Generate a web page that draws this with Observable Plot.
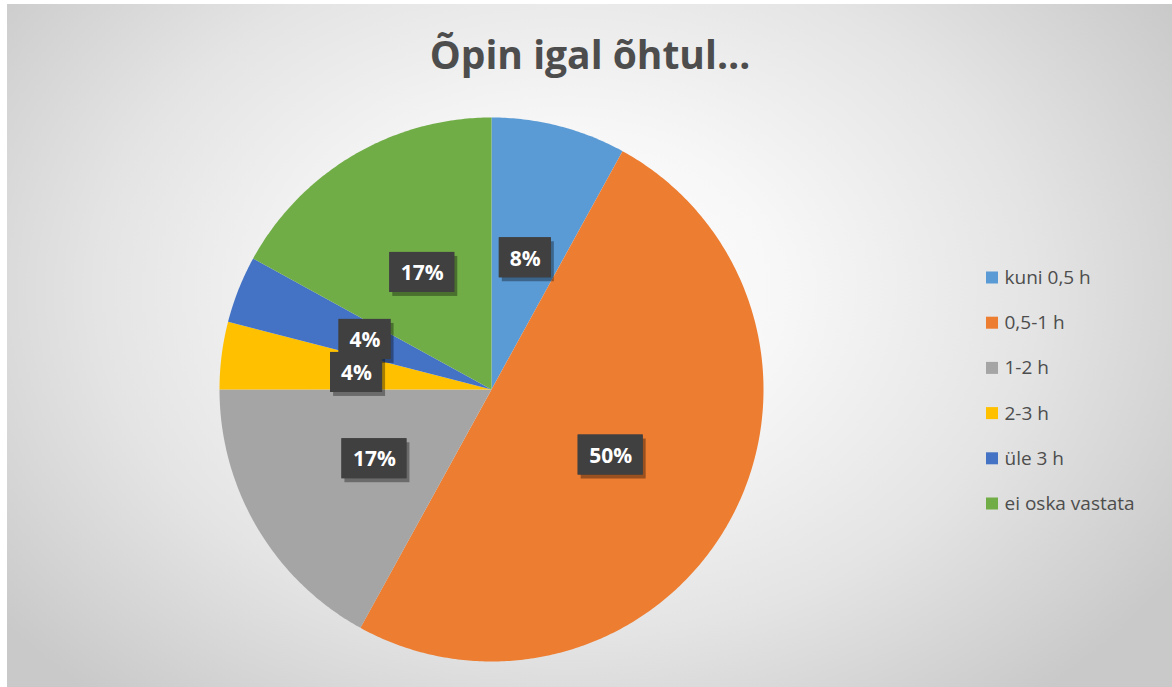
<!DOCTYPE html>
<html><head><meta charset="utf-8">
<script src="https://cdn.jsdelivr.net/npm/d3@7"></script>
<script src="https://cdn.jsdelivr.net/npm/@observablehq/plot@0.6"></script>
<style>
html,body{margin:0;padding:0;background:#fff;}
#wrap{position:relative;width:1172px;height:687px;overflow:hidden;background:#fff;}
#bg{position:absolute;left:7px;top:4px;right:0;bottom:0;
 background:radial-gradient(ellipse 62% 78% at 48% 42%, #ffffff 0%, #f7f7f7 30%, #e4e4e4 65%, #c9c9c9 100%);}
#title{position:absolute;left:0;width:1180px;top:34px;text-align:center;font-family:"Open Sans",sans-serif;
 font-weight:700;font-size:39px;line-height:1;color:#4d4d4d;white-space:nowrap;}
#chart{position:absolute;left:0;top:0;}
</style></head><body>
<div id="wrap"><div id="bg"></div><div id="title"></div><div id="chart"></div></div>
<script>
const title = "Õpin igal õhtul…";
const categories = ["kuni 0,5 h","0,5-1 h","1-2 h","2-3 h","üle 3 h","ei oska vastata"];
const values = [8,50,17,4,4,17];
const labels = ["8%","50%","17%","4%","4%","17%"];
const colors = ["#5b9bd5","#ed7d31","#a5a5a5","#ffc000","#4472c4","#70ad47"];

document.getElementById("title").textContent = title;

const W = 1172, H = 687;
const cx = 491, cy = 389, R = 272;
const arcs = d3.pie().sort(null)(values);

// polygon points of each slice
const slicePts = [];
arcs.forEach((a, i) => {
  const cat = categories[i];
  slicePts.push({cat, x: cx, y: cy});
  const n = Math.max(2, Math.ceil((a.endAngle - a.startAngle) / 0.01));
  for (let k = 0; k <= n; k++) {
    const t = a.startAngle + (a.endAngle - a.startAngle) * k / n;
    slicePts.push({cat, x: cx + R * Math.sin(t), y: cy - R * Math.cos(t)});
  }
  slicePts.push({cat, x: cx, y: cy});
});

const labelData = arcs.map((a, i) => {
  const m = (a.startAngle + a.endAngle) / 2;
  const w = 26 + 13 * labels[i].length;
  const x = cx + 0.5 * R * Math.sin(m), y = cy - 0.5 * R * Math.cos(m);
  return {label: labels[i], x, y, x1: x - w / 2, x2: x + w / 2, y1: y - 20, y2: y + 20};
});

const lx = 986, ly0 = 277.5, lstep = 45.2;
const legendData = categories.map((c, i) => ({cat: c, y: ly0 + i * lstep}));

const plot = Plot.plot({
  width: W, height: H,
  margin: 0,
  x: {domain: [0, W], range: [0, W], axis: null},
  y: {domain: [0, H], range: [0, H], axis: null},
  color: {type: "ordinal", domain: categories, range: colors},
  style: {background: "transparent", overflow: "visible"},
  marks: [
    Plot.line(slicePts, {x: "x", y: "y", z: "cat", fill: "cat", stroke: "none", curve: "linear"}),
    Plot.rect(labelData, {x1: d => d.x1 + 3, x2: d => d.x2 + 3, y1: d => d.y1 + 4, y2: d => d.y2 + 4,
      fill: "#000", fillOpacity: 0.35, ariaLabel: "shadow"}),
    Plot.rect(labelData, {x1: "x1", x2: "x2", y1: "y1", y2: "y2", fill: "#404040", ariaLabel: "box"}),
    Plot.rect(labelData, {x1: "x1", x2: "x2", y1: "y1", y2: "y2", fill: "#404040", ariaLabel: "dots"}),
    Plot.text(labelData, {x: "x", y: "y", text: "label", fill: "white", fontWeight: "bold",
      fontSize: 21, fontFamily: "Open Sans, sans-serif", dy: 1}),
    Plot.rect(legendData, {x1: lx, x2: lx + 12, y1: d => d.y - 6, y2: d => d.y + 6, fill: "cat"}),
    Plot.text(legendData, {x: lx + 18, y: "y", text: "cat", textAnchor: "start", fill: "#4d4d4d",
      fontSize: 19, fontFamily: "Open Sans, sans-serif", dy: 0})
  ]
});

// shadow blur + subtle dot pattern on label boxes
const svg = d3.select(plot);
const defs = svg.insert("defs", ":first-child");
defs.append("filter").attr("id", "blur").attr("x", "-20%").attr("y", "-20%").attr("width", "140%").attr("height", "140%")
  .append("feGaussianBlur").attr("stdDeviation", 2.5);
const pat = defs.append("pattern").attr("id", "dotpat").attr("width", 6).attr("height", 6).attr("patternUnits", "userSpaceOnUse");
pat.append("circle").attr("cx", 3).attr("cy", 3).attr("r", 1).attr("fill", "#555");
svg.select('g[aria-label="shadow"]').attr("filter", "url(#blur)");
svg.selectAll('g[aria-label="dots"] rect').attr("fill", "url(#dotpat)");

document.getElementById("chart").appendChild(plot);
</script>
</body></html>
